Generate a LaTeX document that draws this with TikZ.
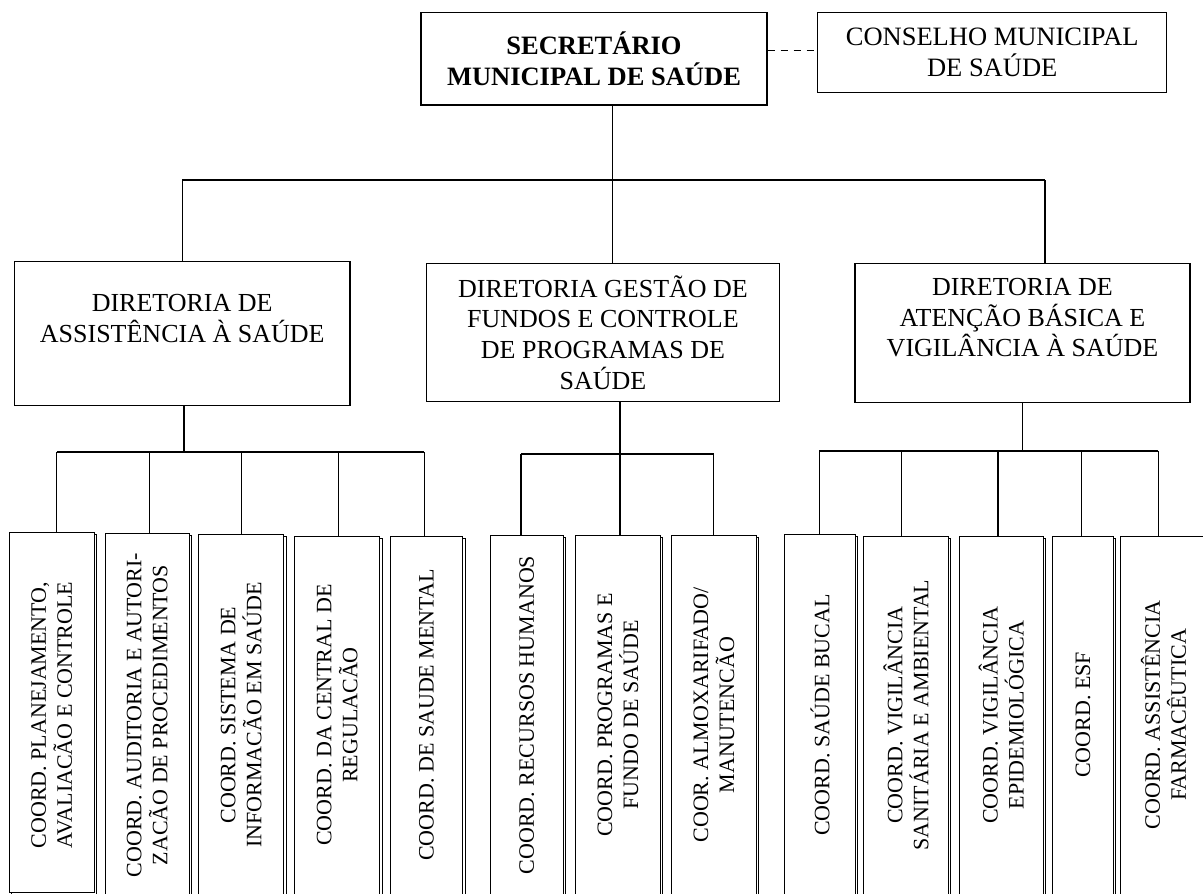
\documentclass[tikz,border=0pt]{standalone}
\usepackage{fontspec}
\setmainfont{Liberation Serif}
\usetikzlibrary{positioning,shadows}

\tikzset{
  topbox/.style={draw, line width=1.3pt, inner sep=0pt, align=center,
    font=\fontsize{26.5}{30.7}\selectfont},
  dirbox/.style={draw, line width=1.5pt, inner sep=0pt, align=center,
    font=\fontsize{26}{30.7}\selectfont},
  coordbox/.style={draw, fill=white, line width=1pt, inner sep=0pt,
    drop shadow={shadow xshift=2.4pt, shadow yshift=-2.4pt, opacity=1,
      fill=white, draw=black, line width=1pt}},
  coordtext/.style={rotate=90, align=center, inner sep=0pt,
    font=\fontsize{22}{26}\selectfont},
  link/.style={line width=1.3pt}
}

\begin{document}
\begin{tikzpicture}[x=1pt, y=-1pt]
    \useasboundingbox (0,0) rectangle (1203,894);
    \clip (0,0) rectangle (1203,894);

    % Secretary and council
    \node[topbox, font=\fontsize{26.5}{30.7}\selectfont\bfseries,
      minimum width=346pt, minimum height=92.7pt] (sec) at (594,58.7)
      {SECRETÁRIO\\MUNICIPAL DE SAÚDE};
    \node[topbox, minimum width=349pt, minimum height=80.4pt] (con) at (992.2,52.5)
      {CONSELHO MUNICIPAL\\DE SAÚDE};
    \coordinate (dl) at (790,50.7);
    \draw[link, dash pattern=on 7pt off 6pt] (sec.east |- dl) -- (con.west |- dl);

    % Directorates
    \node[dirbox, minimum width=335.7pt, minimum height=144pt] (ass) at (182.2,333.7)
      {DIRETORIA DE\\ASSISTÊNCIA À SAÚDE\\\mbox{}};
    \node[dirbox, minimum width=352.6pt, minimum height=138.4pt] (ges) at (603,332.5)
      {DIRETORIA GESTÃO DE\\FUNDOS E CONTROLE\\DE PROGRAMAS DE\\SAÚDE};
    \node[dirbox, minimum width=335pt, minimum height=139pt] (ate) at (1022.5,332.8)
      {DIRETORIA DE\\ATENÇÃO BÁSICA E\\VIGILÂNCIA À SAÚDE\\\mbox{}};

    % Upper connectors
    \coordinate (jt) at (612.7,180);
    \coordinate (jr) at (1045,180);
    \draw[link] (sec.south -| jt) -- (ges.north -| jt);
    \draw[link] (ass.north |- jt) -- (jr);
    \draw[link] (ass.north |- jt) -- (ass.north);
    \draw[link] (jr) -- (ate.north -| jr);

    % Lower junctions
    \coordinate (ja) at (184,452);
    \coordinate (jg) at (619.9,454);
    \coordinate (jv) at (1022.6,451);
    \draw[link] (ass.south -| ja) -- (ja);
    \draw[link] (ges.south -| jg) -- (jg);
    \draw[link] (ate.south -| jv) -- (jv);

    % Coordinations
    \foreach \nm/\xa/\xb/\ya/\yb/\vx/\grp/\txt in {
      c1/9.2/94.4/532/892/56.8/ja/{COORD. PLANEJAMENTO,\\AVALIACÃO E CONTROLE},
      c2/105.1/189.5/533/898/149.6/ja/{COORD. AUDITORIA E AUTORI-\\ZACÃO DE PROCEDIMENTOS},
      c3/198.7/283.9/534/898/241.7/ja/{COORD. SISTEMA DE\\INFORMACÃO EM SAÚDE},
      c4/294.6/379.7/536/898/338.3/ja/{COORD. DA CENTRAL DE\\REGULACÃO},
      c5/390.5/462.6/536/898/424.2/ja/{COORD. DE SAUDE MENTAL},
      c6/490.2/563.1/535.5/898/520.9/jg/{COORD. RECURSOS HUMANOS},
      c7/575.4/660.5/535.5/898/619.9/jg/{COORD. PROGRAMAS E\\FUNDO DE SAÚDE},
      c8/671.3/756.4/535.5/898/713.5/jg/{COOR. ALMOXARIFADO/\\MANUTENCÃO},
      c9/784.8/855.4/534/898/819.3/jv/{COORD. SAÚDE BUCAL},
      c10/863.8/948.2/536/898/901.4/jv/{COORD. VIGILÂNCIA\\SANITÁRIA E AMBIENTAL},
      c11/959/1043.3/536/898/998.1/jv/{COORD. VIGILÂNCIA\\EPIDEMIOLÓGICA},
      c12/1052.6/1113.2/536/898/1081.7/jv/{COORD. ESF},
      c13/1120.8/1206/536/898/1158.4/jv/{COORD. ASSISTÊNCIA\\FARMACÊUTICA}} {
      % Box, text and link to the bar
      \node[coordbox, minimum width={(\xb-\xa)*1pt}, minimum height={(\yb-\ya)*1pt}]
        (\nm) at ({(\xa+\xb)/2},{(\ya+\yb)/2}) {};
      \node[coordtext] (t\nm) at ({(\xa+\xb)/2},715) {\txt};
      \coordinate (v\nm) at (\vx,\ya);
      \draw[link] (v\nm |- \grp) -- (\nm.north -| v\nm);
    }

    % Bars
    \draw[link] (vc1 |- ja) -- (vc5 |- ja);
    \draw[link] (vc6 |- jg) -- (vc8 |- jg);
    \draw[link] (vc9 |- jv) -- (vc13 |- jv);

\end{tikzpicture}
\end{document}
